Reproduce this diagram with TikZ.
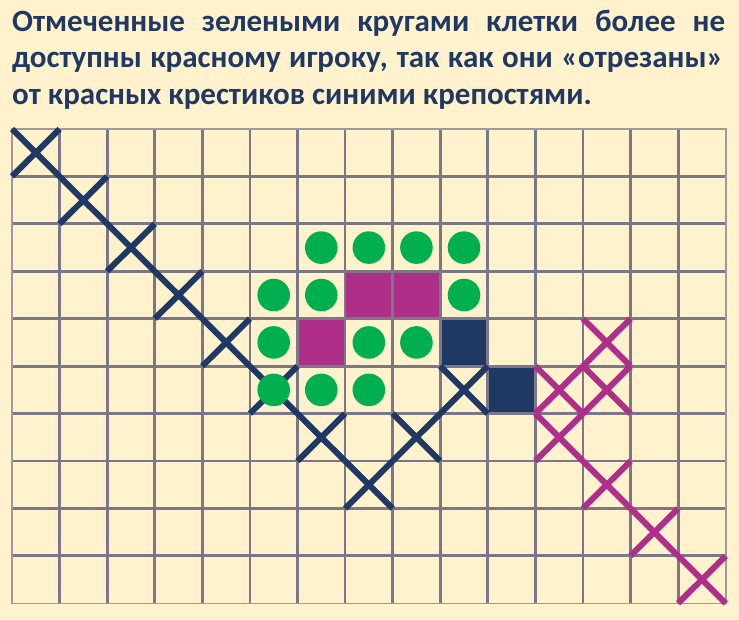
\documentclass[tikz,border=0pt]{standalone}
\usepackage{fontspec}
\setmainfont{Carlito}
\definecolor{bgc}{HTML}{FFF2CC}
\definecolor{navy}{HTML}{1F3864}
\definecolor{magc}{HTML}{AE2E89}
\definecolor{grn}{HTML}{00B050}
\definecolor{gridc}{HTML}{7A7888}
\definecolor{outc}{HTML}{9C9A9A}
\tikzset{
  txt/.style={anchor=base west, inner sep=0pt, text=navy, font=\bfseries\fontsize{31}{37}\selectfont},
  gl/.style={draw=gridc, line width=2.8pt},
  outer/.style={draw=outc, line width=1.6pt},
  bluex/.style={draw=navy, line width=6pt},
  magx/.style={draw=magc, line width=6pt},
}
\begin{document}
\begin{tikzpicture}[x=1pt,y=-1pt]
\useasboundingbox (0,0) rectangle (739,619);
\fill[bgc] (0,0) rectangle (739,619);
\node[txt] (l1) at (12,31) {\makebox[713pt][s]{Отмеченные зелеными кругами клетки более не}};
\node[txt] (l2) at (12,67.5) {\makebox[711pt][s]{доступны красному игроку, так как они «отрезаны»}};
\node[txt] (l3) at (12,104) {от красных крестиков синими крепостями.};
\begin{scope}[shift={(12pt,-129pt)}, x=47.58pt, y=-47.43pt]
  % squares
  \foreach \c/\r in {7/3,8/3,6/4} \fill[magc] (\c,\r) rectangle ++(1,1);
  \foreach \c/\r in {9/4,10/5} \fill[navy] (\c,\r) rectangle ++(1,1);
  % grid
  \foreach \i in {1,...,14} \draw[gl] (\i,0) -- (\i,10);
  \foreach \j in {1,...,9} \draw[gl] (0,\j) -- (15,\j);
  \draw[outer] (0,0) rectangle (15,10);
  % crosses
  \foreach \c/\r in {0/0,1/1,2/2,3/3,4/4,5/5,6/6,7/7,8/6,9/5}
    \draw[bluex] (\c,\r) -- ++(1,1) (\c+1,\r) -- ++(-1,1);
  \foreach \c/\r in {12/4,11/5,12/5,11/6,12/7,13/8,14/9}
    \draw[magx] (\c,\r) -- ++(1,1) (\c+1,\r) -- ++(-1,1);
  % circles
  \foreach \c/\r in {6/2,7/2,8/2,9/2,5/3,6/3,9/3,5/4,7/4,8/4,5/5,6/5,7/5}
    \fill[grn] (\c+0.5,\r+0.5) circle[radius=16.3pt];
\end{scope}
\end{tikzpicture}
\end{document}
